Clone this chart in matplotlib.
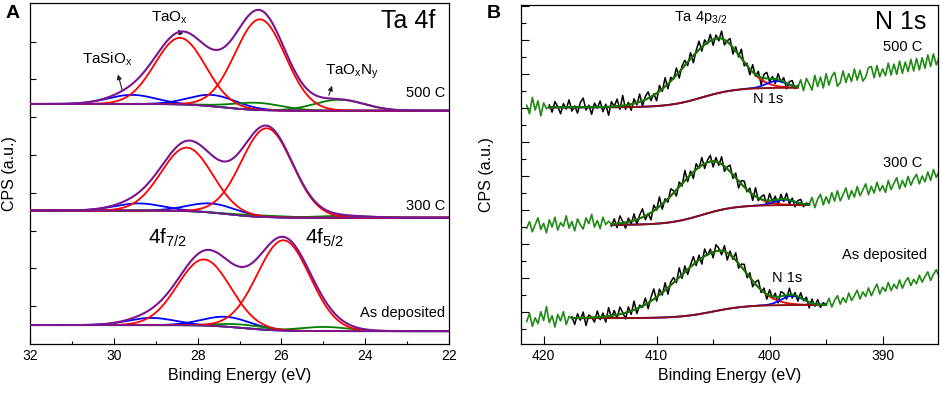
import numpy as np
import matplotlib
matplotlib.use("Agg")
import matplotlib.pyplot as plt
from matplotlib.ticker import MultipleLocator, NullFormatter

plt.rcParams['font.family'] = ['Liberation Sans', 'DejaVu Sans']
plt.rcParams['mathtext.fontset'] = 'custom'
plt.rcParams['mathtext.rm'] = 'Liberation Sans'
plt.rcParams['mathtext.it'] = 'Liberation Sans:italic'
plt.rcParams['mathtext.bf'] = 'Liberation Sans:bold'

# ---------------- Panel A : Ta 4f fitted components ----------------
a_labels = ["500 C", "300 C", "As deposited"]
a_bg_left = [6.35, 3.53, 0.50]
a_bg_right = [6.17, 3.34, 0.34]
a_bg_center = [27.4, 27.3, 26.9]
a_taox_pos = [[28.42, 26.51], [28.26, 26.35], [27.85, 25.95]]
a_taox_height = [[1.76, 2.40], [1.68, 2.35], [1.75, 2.39]]
a_taox_sigma = [0.60, 0.61, 0.63]
a_tasiox_pos = [[29.57, 27.63], [29.41, 27.66], [29.10, 27.31]]
a_tasiox_height = [[0.24, 0.30], [0.19, 0.24], [0.19, 0.26]]
a_tasiox_sigma = [0.57, 0.57, 0.57]
a_taoxny_pos = [[26.59, 24.62], [26.45, 24.55], [26.91, 25.00]]
a_taoxny_height = [[0.19, 0.29], [0.04, 0.05], [0.09, 0.11]]
a_taoxny_sigma = [0.60, 0.60, 0.60]

# ---------------- Panel B : N 1s region ----------------
b_labels = ["500 C", "300 C", "As deposited"]
b_fit_start = [419.5, 414.0, 417.5]
b_bg_left = [7.01, 3.55, 0.81]
b_bg_right = [7.59, 4.14, 1.20]
b_bg_center = [406.0, 406.0, 405.0]
b_ta4p_pos = [404.7, 405.3, 404.6]
b_ta4p_height = [1.62, 1.50, 1.76]
b_ta4p_sigma_high = [3.1, 3.0, 3.7]
b_ta4p_sigma_low = [2.05, 2.2, 2.35]
b_n1s_pos = [399.4, 398.7, 398.0]
b_n1s_height = [0.20, 0.16, 0.27]
b_n1s_sigma = [0.90, 0.90, 0.95]

# measured counts inside the fit window: deviation from the fit envelope (0.25 eV steps)
b_resid_500 = [0.07, -0.14, 0.17, 0.02, -0.19, 0.11, -0.05, 0.22, -0.11, 0.04,
               -0.17, 0.14, 0.27, -0.08, 0.06, -0.21, 0.12, -0.03, 0.18, -0.14,
               0.08, -0.25, 0.15, 0.00, 0.21, -0.10, 0.30, -0.12, 0.07, -0.18,
               0.14, -0.06, 0.23, -0.15, 0.10, 0.19, -0.11, 0.04, -0.22, 0.17,
               -0.07, 0.26, -0.14, 0.11, -0.03, 0.21, -0.18, 0.08, 0.15, -0.10,
               0.18, -0.21, 0.06, 0.25, -0.12, 0.14, -0.04, 0.19, -0.17, 0.10,
               -0.08, 0.22, -0.15, 0.03, 0.17, -0.19, 0.12, -0.07, 0.27, -0.11,
               0.07, -0.17, 0.21, -0.06, 0.14, -0.22, 0.11, 0.18, -0.10, 0.06,
               -0.14, 0.17, -0.04, 0.12, -0.17, 0.08, 0.14, -0.07, 0.03]
b_resid_300 = [-0.06, 0.15, -0.12, 0.22, 0.04, -0.17, 0.11, -0.08, 0.19, -0.14,
               0.10, 0.25, -0.11, 0.03, -0.21, 0.17, -0.04, 0.28, -0.15, 0.08,
               -0.10, 0.21, 0.06, -0.18, 0.14, -0.07, 0.30, -0.12, 0.11, -0.19,
               0.17, -0.03, 0.23, -0.14, 0.07, 0.18, -0.17, 0.12, -0.08, 0.22,
               -0.15, 0.06, 0.19, -0.11, 0.14, -0.21, 0.10, 0.17, -0.06, 0.12,
               -0.18, 0.25, -0.08, 0.07, 0.15, -0.14, 0.21, -0.04, 0.11, -0.17,
               0.14, -0.07, 0.18, -0.12, 0.08, -0.15, 0.06, 0.12, -0.08, 0.04, 0.01]
b_resid_ad = [0.04, -0.19, 0.12, -0.07, 0.17, -0.23, 0.08, 0.01, -0.14, 0.18,
              -0.08, 0.11, -0.17, 0.25, -0.06, 0.14, -0.11, 0.21, 0.03, -0.18,
              0.15, -0.10, 0.26, -0.14, 0.07, -0.04, 0.19, -0.17, 0.11, 0.30,
              -0.12, 0.17, -0.07, 0.22, -0.19, 0.10, 0.15, -0.08, 0.28, -0.11,
              0.18, -0.15, 0.06, 0.23, -0.10, 0.14, -0.18, 0.21, -0.03, 0.12,
              -0.17, 0.19, 0.07, -0.12, 0.17, -0.21, 0.11, -0.06, 0.22, -0.14,
              0.08, 0.18, -0.11, 0.14, -0.17, 0.06, 0.21, -0.08, 0.12, -0.15,
              0.17, -0.06, 0.11, -0.18, 0.14, 0.07, -0.12, 0.19, -0.10, 0.08,
              -0.14, 0.15, -0.04, 0.11, -0.17, 0.12, -0.07, 0.14, -0.08, 0.06, 0.00]
# measured counts outside the fit window (0.25 eV steps)
b_raw_left_500 = [7.07, 6.82, 7.30, 6.93, 7.20, 6.76, 7.14, 6.97, 7.03]
b_raw_left_300 = [3.46, 3.65, 3.35, 3.56, 3.76, 3.42, 3.60, 3.32, 3.70, 3.49,
                  3.78, 3.40, 3.62, 3.51, 3.82, 3.46, 3.65, 3.38, 3.73, 3.55,
                  3.43, 3.76, 3.59, 3.86, 3.49, 3.68, 3.44, 3.78, 3.56, 3.66, 3.58]
b_raw_left_ad = [0.71, 0.95, 0.57, 0.82, 0.65, 1.00, 0.74, 1.15, 0.68, 0.88,
                 0.55, 0.92, 0.73, 1.00, 0.62, 0.86, 0.80]
b_raw_right_500 = [7.60, 7.82, 7.50, 7.86, 7.70, 7.52, 7.95, 7.62, 7.90, 7.58,
                   8.00, 7.66, 7.92, 8.04, 7.63, 7.74, 8.08, 7.74, 8.00, 7.77,
                   8.14, 7.81, 8.10, 7.78, 7.90, 8.18, 8.21, 7.88, 8.24, 7.91,
                   8.14, 7.94, 8.31, 7.96, 8.28, 7.98, 8.37, 8.01, 8.34, 8.06,
                   8.42, 8.08, 8.45, 8.11, 8.47, 8.16, 8.55, 8.21, 8.58, 8.26, 8.47]
b_raw_right_300 = [4.15, 4.36, 4.06, 4.31, 4.45, 4.14, 4.38, 4.19, 4.50, 4.25,
                   4.56, 4.26, 4.44, 4.64, 4.31, 4.56, 4.37, 4.68, 4.41, 4.58,
                   4.76, 4.44, 4.69, 4.49, 4.81, 4.55, 4.71, 4.51, 4.86, 4.59,
                   4.78, 4.94, 4.61, 4.86, 4.67, 4.98, 4.72, 4.91, 5.04, 4.76,
                   4.99, 4.82, 5.11, 4.86, 5.18, 4.95, 5.12]
b_raw_right_ad = [1.20, 1.39, 1.14, 1.33, 1.47, 1.22, 1.41, 1.27, 1.55, 1.33,
                  1.47, 1.63, 1.37, 1.58, 1.45, 1.70, 1.47, 1.65, 1.81, 1.52,
                  1.72, 1.60, 1.86, 1.62, 1.81, 1.68, 1.93, 1.69, 1.88, 2.00,
                  1.77, 1.95, 1.82, 2.07, 1.87, 2.03, 2.17, 1.92, 2.10, 2.23, 2.05]
b_resid = [b_resid_500, b_resid_300, b_resid_ad]
b_raw_left = [b_raw_left_500, b_raw_left_300, b_raw_left_ad]
b_raw_right = [b_raw_right_500, b_raw_right_300, b_raw_right_ad]
STEP = 0.25


def gauss(x, c, h, s):
    return h * np.exp(-0.5 * ((x - c) / s) ** 2)


def split_gauss(x, c, h, s_hi, s_lo):
    s = np.where(x >= c, s_hi, s_lo)
    return h * np.exp(-0.5 * ((x - c) / s) ** 2)


def step_bg(x, left, right, c, w):
    return right + (left - right) * 0.5 * (1 + np.tanh((x - c) / w))


PURPLE = "#7a1590"
RED = "#ff0000"
BLUE = "#0000ff"
GREEN = "#008000"
DGREEN = "#1f8a14"
DRED = "#8b1010"

fig = plt.figure(figsize=(9.41, 3.93), dpi=100)
axA = fig.add_axes([0.0319, 0.1247, 0.4453, 0.8677])
axB = fig.add_axes([0.5537, 0.1247, 0.4431, 0.8626])

# ---------- Panel A ----------
xa = np.linspace(32, 22, 800)
for i in range(3):
    bg = step_bg(xa, a_bg_left[i], a_bg_right[i], a_bg_center[i], 0.8)
    blue = [gauss(xa, a_tasiox_pos[i][k], a_tasiox_height[i][k], a_tasiox_sigma[i]) for k in range(2)]
    green = [gauss(xa, a_taoxny_pos[i][k], a_taoxny_height[i][k], a_taoxny_sigma[i]) for k in range(2)]
    red = [gauss(xa, a_taox_pos[i][k], a_taox_height[i][k], a_taox_sigma[i]) for k in range(2)]
    for comp in blue:
        axA.plot(xa, bg + comp, color=BLUE, lw=1.3, zorder=2)
    for comp in green:
        axA.plot(xa, bg + comp, color=GREEN, lw=1.3, zorder=2)
    for comp in red:
        axA.plot(xa, bg + comp, color=RED, lw=1.3, zorder=3)
    axA.plot(xa, bg, color=PURPLE, lw=1.3, zorder=4)
    env = bg + sum(blue) + sum(green) + sum(red)
    axA.plot(xa, env, color=PURPLE, lw=1.5, zorder=5)

axA.set_xlim(32, 22)
axA.set_ylim(0, 9.02)
axA.xaxis.set_major_locator(MultipleLocator(2))
axA.xaxis.set_minor_locator(MultipleLocator(1))
axA.set_yticks(np.arange(1, 9))
axA.yaxis.set_major_formatter(NullFormatter())
axA.tick_params(axis='both', which='major', direction='in', length=4.5, width=0.8,
                labelsize=10, top=False, right=False)
axA.tick_params(axis='x', which='minor', direction='in', length=2.5, width=0.8, top=False)
axA.set_xlabel("Binding Energy (eV)", fontsize=11.5)
axA.set_ylabel("CPS (a.u.)", fontsize=11.5)
axA.yaxis.set_label_coords(-0.031, 0.5)

axA.text(22.97, 8.54, "Ta 4f", fontsize=18, ha='center', va='center')
axA.text(28.66, 8.62, r"TaO$_\mathregular{x}$", fontsize=11, ha='center', va='center')
axA.text(30.16, 7.52, r"TaSiO$_\mathregular{x}$", fontsize=11, ha='center', va='center')
axA.text(24.31, 7.20, r"TaO$_\mathregular{x}$N$_\mathregular{y}$", fontsize=11, ha='center', va='center')
arrow_kw = dict(arrowstyle='-|>', color='#222222', lw=0.8, mutation_scale=7)
axA.annotate("", xy=(29.92, 7.20), xytext=(29.78, 6.64), arrowprops=arrow_kw)
axA.annotate("", xy=(28.49, 8.39), xytext=(28.37, 8.12), arrowprops=arrow_kw)
axA.annotate("", xy=(24.77, 6.90), xytext=(24.89, 6.51), arrowprops=arrow_kw)
a_label_y = [6.64, 3.65, 0.82]
for lab, yy in zip(a_labels, a_label_y):
    axA.text(22.10, yy, lab, fontsize=10.5, ha='right', va='center')
axA.text(29.18, 2.80, r"4f$_\mathregular{7/2}$", fontsize=15, ha='left', va='center')
axA.text(25.44, 2.80, r"4f$_\mathregular{5/2}$", fontsize=15, ha='left', va='center')

# ---------- Panel B ----------
for i in range(3):
    n = len(b_resid[i])
    x_fit = b_fit_start[i] - STEP * np.arange(n)
    x_end = x_fit[-1]
    nl = len(b_raw_left[i])
    x_left = b_fit_start[i] + STEP * (nl - 1) - STEP * np.arange(nl)
    x_right = x_end - STEP * np.arange(len(b_raw_right[i]))
    xs = np.linspace(b_fit_start[i], x_end, 500)

    def model(x):
        bg = step_bg(x, b_bg_left[i], b_bg_right[i], b_bg_center[i], 3.0)
        ta = split_gauss(x, b_ta4p_pos[i], b_ta4p_height[i], b_ta4p_sigma_high[i], b_ta4p_sigma_low[i])
        ns = gauss(x, b_n1s_pos[i], b_n1s_height[i], b_n1s_sigma[i])
        return bg, ta, ns

    bg_f, ta_f, ns_f = model(x_fit)
    measured = bg_f + ta_f + ns_f + np.array(b_resid[i])
    axB.plot(x_left, b_raw_left[i], color=DGREEN, lw=1.2, zorder=1)
    axB.plot(x_right, b_raw_right[i], color=DGREEN, lw=1.2, zorder=1)
    axB.plot(x_fit, measured, color='black', lw=1.1, zorder=2)
    bg, ta, ns = model(xs)
    axB.plot(xs, bg + ta, color=RED, lw=1.3, zorder=3)
    axB.plot(xs, bg + ns, color=BLUE, lw=1.3, zorder=4)
    axB.plot(xs, bg, color=DRED, lw=1.4, zorder=5)
    axB.plot(xs, bg + ta + ns, color=GREEN, lw=1.4, zorder=6)

axB.set_xlim(422.0, 385.1)
axB.set_ylim(0.05, 10.02)
axB.xaxis.set_major_locator(MultipleLocator(10))
axB.xaxis.set_minor_locator(MultipleLocator(5))
axB.yaxis.set_major_locator(MultipleLocator(1))
axB.yaxis.set_minor_locator(MultipleLocator(0.5))
axB.yaxis.set_major_formatter(NullFormatter())
axB.tick_params(axis='both', which='major', direction='in', length=5.5, width=0.8,
                labelsize=10, top=False, right=False)
axB.tick_params(axis='both', which='minor', direction='in', length=3.5, width=0.8,
                top=False, right=False)
axB.set_xlabel("Binding Energy (eV)", fontsize=11.5)
axB.set_ylabel("CPS (a.u.)", fontsize=11.5)
axB.yaxis.set_label_coords(-0.065, 0.5)

axB.text(388.36, 9.52, "N 1s", fontsize=18, ha='center', va='center')
axB.text(408.5, 9.64, r"Ta 4p$_\mathregular{3/2}$", fontsize=10.5, ha='left', va='center')
axB.text(401.5, 7.26, "N 1s", fontsize=10.5, ha='left', va='center')
axB.text(399.8, 1.99, "N 1s", fontsize=10.5, ha='left', va='center')
b_label_x = [386.46, 386.46, 386.1]
b_label_y = [8.79, 5.37, 2.67]
for lab, xx, yy in zip(b_labels, b_label_x, b_label_y):
    axB.text(xx, yy, lab, fontsize=10.5, ha='right', va='center')

for ax in (axA, axB):
    for sp in ax.spines.values():
        sp.set_linewidth(0.9)

fig.text(13 / 941, 1 - 14 / 393, "A", fontsize=14, fontweight='bold', ha='center', va='center')
fig.text(494 / 941, 1 - 13 / 393, "B", fontsize=14, fontweight='bold', ha='center', va='center')

fig.savefig("out.png", dpi=100)
